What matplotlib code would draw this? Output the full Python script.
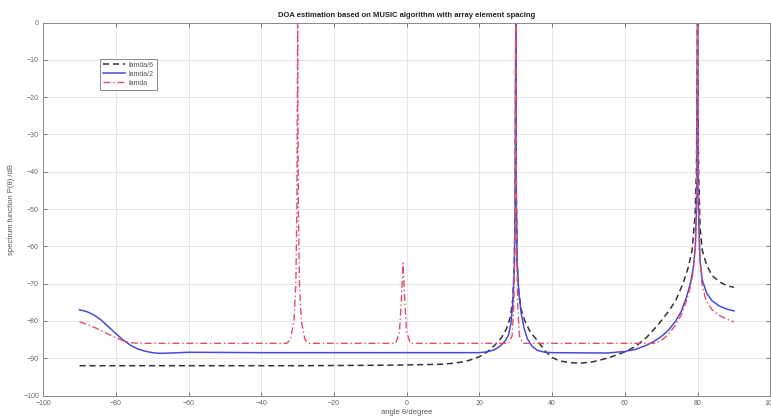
import matplotlib.pyplot as plt

# angle (deg) / spectrum (dB), one pair of lists per curve
ang_d6 = [-90, -60, -30, -10, 0, 10, 13, 16, 18, 20, 22, 24, 26, 27.5, 28.5, 29.2, 29.6,
          29.85, 30, 30.15, 30.4, 30.8, 31.5, 32.5, 34, 36, 38, 40, 42, 45, 48, 51, 54,
          57, 60, 63, 66, 69, 72, 74, 76, 77.5, 78.5, 79.3, 79.7, 80, 80.3, 80.7, 81.3,
          82.5, 84, 86, 88, 90]
p_d6 = [-92, -92, -92, -91.9, -91.8, -91.6, -91.3, -90.9, -90.3, -89.6, -88.4, -86.7,
        -84.6, -82, -79, -74, -65, -45, 0, -45, -65, -72, -77, -80, -83, -85.3, -88,
        -89.8, -90.7, -91.2, -91.3, -91, -90.3, -89.4, -88.3, -86.8, -84.4, -81.2,
        -77.5, -74.5, -70, -65.5, -61, -52, -40, 0, -40, -55, -61, -65, -67.8, -69.5,
        -70.5, -71]

ang_d2 = [-90, -88, -86, -84, -82, -80, -78, -76, -74, -72, -70, -68, -65, -60, -40, 0,
          20, 22, 24, 25.5, 27, 28, 28.7, 29.2, 29.6, 29.85, 30, 30.15, 30.4, 30.8, 31.5,
          32.3, 33.2, 34.5, 36, 38, 40, 55, 60, 63, 66, 68, 70, 72, 74, 75.5, 77, 78,
          78.8, 79.4, 79.75, 80, 80.25, 80.7, 81.3, 82.5, 84, 86, 88, 90]
p_d2 = [-77, -77.5, -78.4, -79.8, -81.6, -83.4, -85.1, -86.5, -87.5, -88.1, -88.5,
        -88.7, -88.6, -88.4, -88.5, -88.5, -88.5, -88.3, -87.8, -86.9, -85.5, -83.8,
        -80.5, -75, -66, -48, 0, -48, -64, -72, -78, -82, -84.8, -86.8, -87.9, -88.4,
        -88.5, -88.6, -88.2, -87.6, -86.5, -85.5, -84.2, -82.5, -80, -77.5, -73.5, -70,
        -66, -60, -48, 0, -50, -64, -69, -72.5, -74.6, -76, -76.8, -77.3]

ang_d1 = [-90, -88, -86, -84, -82, -80, -78, -76, -74, -33, -32, -31, -30.5, -30.2, -30,
          -29.8, -29.5, -29, -28, -27, -3, -2, -1.5, -1, -0.5, 0, 1, 28, 29, 29.5, 29.8,
          30, 30.2, 30.5, 31, 32, 68, 70, 72, 74, 75.5, 77, 78, 78.8, 79.4, 79.75, 80,
          80.25, 80.6, 81.2, 82.3, 84, 86, 88, 90]
p_d1 = [-80.2, -80.9, -81.7, -82.6, -83.6, -84.5, -85.3, -85.8, -86, -86, -85, -80, -70,
        -50, 0, -50, -70, -80, -85, -86, -86, -83, -75, -64.5, -75, -83, -86, -86, -84,
        -75, -55, 0, -55, -75, -84, -86, -86, -85.3, -83.6, -81, -78.5, -74.5, -71, -67,
        -60, -45, 0, -45, -62, -70, -74.5, -77, -78.5, -79.5, -80.2]

labels = ['lamda/6', 'lamda/2', 'lamda']
x_ticks = list(range(-100, 101, 20))
y_ticks = list(range(-100, 1, 10))

plt.rcParams['font.family'] = ['Liberation Sans', 'DejaVu Sans']

fig = plt.figure(figsize=(7.71, 4.19), dpi=100)
ax = fig.add_axes([0.056, 0.056, 0.943, 0.89])

ax.plot(ang_d6, p_d6, color='#333333', linestyle=(0, (4, 2.5)), linewidth=1.1, label=labels[0])
ax.plot(ang_d2, p_d2, color='#4a4ad8', linestyle='-', linewidth=1.1, label=labels[1])
ax.plot(ang_d1, p_d1, color='#e0506a', linestyle=(0, (5, 2, 1, 2)), linewidth=1.0, label=labels[2])

ax.set_xlim(-100, 100)
ax.set_ylim(-100, 0)
ax.set_xticks(x_ticks)
ax.set_yticks(y_ticks)
ax.grid(True, color='#e2e2e2', linewidth=0.6)
ax.set_axisbelow(True)
ax.tick_params(direction='in', length=3, width=0.6, colors='#666666', labelsize=5,
               top=True, right=True, pad=3)
for s in ax.spines.values():
    s.set_color('#8a8a8a')
    s.set_linewidth(0.7)

ax.set_title('DOA estimation based on MUSIC algorithm with array element spacing',
             fontsize=5.5, fontweight='bold', color='#222222', pad=4)
ax.set_xlabel('angle θ/degree', fontsize=5.5, color='#555555', labelpad=2)
ax.set_ylabel('spectrum function P(θ) /dB', fontsize=5.5, color='#555555', labelpad=6)

leg = ax.legend(loc='upper left', bbox_to_anchor=(0.074, 0.912), fontsize=5,
                frameon=True, fancybox=False, handlelength=3.2, borderpad=0.4,
                labelspacing=0.3, handletextpad=0.5)
leg.get_frame().set_edgecolor('#555555')
leg.get_frame().set_linewidth(0.6)
for t in leg.get_texts():
    t.set_color('#555555')

fig.savefig('out.png', dpi=100)
